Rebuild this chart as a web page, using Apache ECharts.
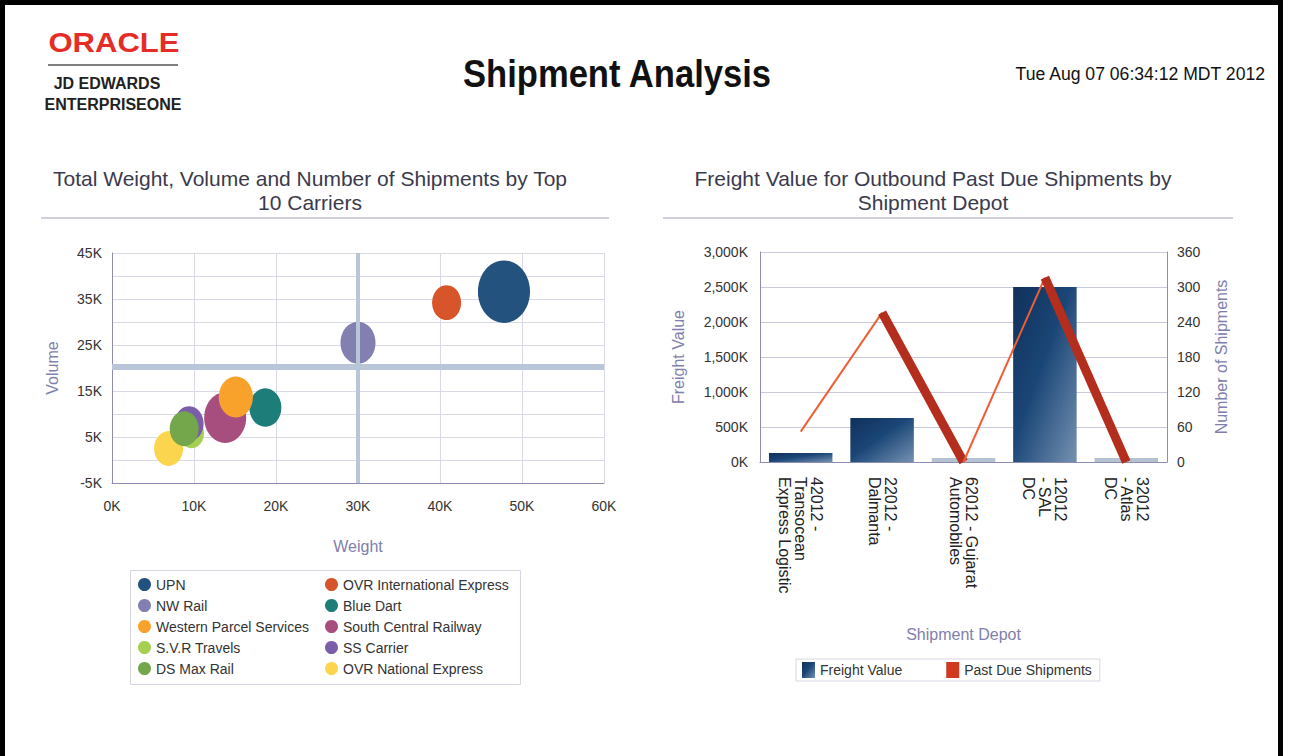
<!DOCTYPE html>
<html>
<head>
<meta charset="utf-8">
<title>Shipment Analysis</title>
<script src="https://cdn.jsdelivr.net/npm/echarts@6.0.0/dist/echarts.min.js"></script>
<style>
html, body { margin: 0; padding: 0; background: #fff; }
#main { width: 1291px; height: 756px; }
</style>
</head>
<body>
<div id="main"></div>
<script>
// carriers (left chart)
var carriers = [
    'UPN',
    'OVR International Express',
    'NW Rail',
    'Blue Dart',
    'Western Parcel Services',
    'South Central Railway',
    'S.V.R Travels',
    'SS Carrier',
    'DS Max Rail',
    'OVR National Express'
];
var weights = [47800, 40800, 30000, 18700, 15100, 13800, 9700, 9400, 8800, 6900];
var volumes = [36600, 34200, 25500, 11400, 13700, 9200, 5800, 7900, 6800, 2500];
var shipments = [270, 84, 122, 102, 116, 176, 62, 84, 84, 84];
var refWeight = 30000;
var refVolume = 20200;

// depots (right chart)
var depots = [
    '42012 -\nTransocean\nExpress Logistic',
    '22012 -\nDalmanta',
    '62012 - Gujarat\nAutomobiles',
    '12012\n- SAL\nDC',
    '32012\n- Atlas\nDC'
];
var freightValue = [130000, 630000, 0, 2500000, 0];
var pastDue = [52, 256, 0, 316, 0];

var carrierColors = ['#23527f', '#d8542a', '#8180b0', '#1d7d79', '#f8a22c',
    '#a84e7f', '#a6d053', '#7b5ea8', '#74a64c', '#fcd54e'];
var carrierZ = [2, 2, 2, 2, 3, 2, 2, 2, 3, 2];

var myChart = echarts.init(document.getElementById('main'), null, { renderer: 'svg' });

var axisColor = '#8c8cb4';
var gridColor = '#d9d9e8';
var nameColor = '#8080ac';
var fontName = '"Liberation Sans", Arial';

var barGradient = new echarts.graphic.LinearGradient(0, 0, 1, 1, [
    { offset: 0, color: '#11305a' },
    { offset: 0.45, color: '#1a4677' },
    { offset: 1, color: '#7591b1' }
]);

// bubble series, one per carrier
var bubbleSeries = carriers.map(function (name, i) {
    var s = {
        name: name,
        type: 'scatter',
        xAxisIndex: 0,
        yAxisIndex: 0,
        z: carrierZ[i],
        data: [[weights[i], volumes[i], shipments[i]]],
        symbolSize: function (val) {
            var w = Math.sqrt(val[2]) * 3.17;
            return [w, w * 1.2];
        },
        itemStyle: { color: carrierColors[i], opacity: 1 },
        emphasis: { disabled: true }
    };
    if (i === 0) {
        // reference lines
        s.markLine = {
            silent: true,
            symbol: 'none',
            label: { show: false },
            lineStyle: { color: '#b9c5d9', type: 'solid' },
            data: [
                { xAxis: refWeight, lineStyle: { width: 4 } },
                { yAxis: refVolume, lineStyle: { width: 6 } }
            ]
        };
    }
    return s;
});

var leftCol = carriers.filter(function (c, i) { return i % 2 === 0; });
var rightCol = carriers.filter(function (c, i) { return i % 2 === 1; });

var legendBase = {
    orient: 'vertical',
    top: 577,
    icon: 'circle',
    itemWidth: 13,
    itemHeight: 15,
    itemGap: 6,
    padding: 0,
    selectedMode: false,
    textStyle: { color: '#333', fontSize: 14, lineHeight: 15 }
};

option = {
    backgroundColor: '#fff',
    animation: false,
    textStyle: { fontFamily: fontName + ', sans-serif' },
    graphic: [
        // page frame
        { type: 'rect', shape: { x: 2.5, y: 2.5, width: 1278, height: 800 },
          style: { fill: null, stroke: '#000', lineWidth: 5 } },
        // logo
        { type: 'text', x: 114, y: 43, scaleX: 1.15,
          style: { text: 'ORACLE', font: 'bold 27px ' + fontName, fill: '#e52d27',
                   align: 'center', verticalAlign: 'middle' } },
        { type: 'line', shape: { x1: 48, y1: 65, x2: 178, y2: 65 },
          style: { stroke: '#555', lineWidth: 1.5 } },
        { type: 'text', x: 107, y: 83,
          style: { text: 'JD EDWARDS', font: 'bold 16px ' + fontName, fill: '#222',
                   align: 'center', verticalAlign: 'middle' } },
        { type: 'text', x: 113, y: 104,
          style: { text: 'ENTERPRISEONE', font: 'bold 16px ' + fontName, fill: '#222',
                   align: 'center', verticalAlign: 'middle' } },
        // page title and date
        { type: 'text', x: 617, y: 74, scaleX: 0.91,
          style: { text: 'Shipment Analysis', font: 'bold 38px ' + fontName, fill: '#111',
                   align: 'center', verticalAlign: 'middle' } },
        { type: 'text', x: 1265, y: 74,
          style: { text: 'Tue Aug 07 06:34:12 MDT 2012', font: '17.6px ' + fontName, fill: '#111',
                   align: 'right', verticalAlign: 'middle' } },
        // chart titles
        { type: 'text', x: 310, y: 190,
          style: { text: 'Total Weight, Volume and Number of Shipments by Top\n10 Carriers',
                   font: '21px ' + fontName, fill: '#3a3a4c', lineHeight: 24,
                   align: 'center', verticalAlign: 'middle' } },
        { type: 'text', x: 933, y: 190,
          style: { text: 'Freight Value for Outbound Past Due Shipments by\nShipment Depot',
                   font: '21px ' + fontName, fill: '#3a3a4c', lineHeight: 24,
                   align: 'center', verticalAlign: 'middle' } },
        { type: 'line', shape: { x1: 41, y1: 218, x2: 609, y2: 218 },
          style: { stroke: '#cfd0dc', lineWidth: 2 } },
        { type: 'line', shape: { x1: 663, y1: 218, x2: 1233, y2: 218 },
          style: { stroke: '#cfd0dc', lineWidth: 2 } },
        // bubble legend box
        { type: 'rect', shape: { x: 130.5, y: 570.5, width: 390, height: 114 },
          style: { fill: null, stroke: '#d6d6e2', lineWidth: 1 } }
    ],
    legend: [
        Object.assign({}, legendBase, { left: 138, data: leftCol }),
        Object.assign({}, legendBase, { left: 325, data: rightCol }),
        {
            left: 796,
            top: 659,
            itemWidth: 13,
            itemHeight: 16,
            itemGap: 44,
            padding: [3, 8, 3, 6],
            borderColor: '#d6d6e2',
            borderWidth: 1,
            selectedMode: false,
            textStyle: { color: '#333', fontSize: 14 },
            data: [
                { name: 'Freight Value', icon: 'rect' },
                { name: 'Past Due Shipments', icon: 'rect' }
            ]
        }
    ],
    grid: [
        { left: 112, top: 253, width: 492, height: 230 },
        { left: 760, top: 252, width: 407, height: 210 }
    ],
    xAxis: [
        {
            type: 'value',
            gridIndex: 0,
            min: 0,
            max: 60000,
            interval: 10000,
            name: 'Weight',
            nameLocation: 'middle',
            nameGap: 55,
            nameTextStyle: { color: nameColor, fontSize: 16 },
            axisLine: { show: true, onZero: false, lineStyle: { color: axisColor } },
            axisTick: { show: false },
            splitLine: { show: true, lineStyle: { color: gridColor } },
            axisLabel: {
                color: '#333',
                fontSize: 14,
                margin: 16,
                formatter: function (v) { return v / 1000 + 'K'; }
            }
        },
        {
            type: 'category',
            gridIndex: 1,
            data: depots,
            name: 'Shipment Depot',
            nameLocation: 'middle',
            nameGap: 164,
            nameTextStyle: { color: nameColor, fontSize: 16 },
            axisLine: { show: true, onZero: false, lineStyle: { color: axisColor } },
            axisTick: { show: false },
            axisLabel: {
                interval: 0,
                rotate: -90,
                color: '#222',
                fontSize: 16,
                lineHeight: 16,
                margin: 15
            }
        }
    ],
    yAxis: [
        {
            type: 'value',
            gridIndex: 0,
            min: -5000,
            max: 45000,
            interval: 5000,
            name: 'Volume',
            nameLocation: 'middle',
            nameRotate: 90,
            nameGap: 52,
            nameTextStyle: { color: nameColor, fontSize: 16 },
            axisLine: { show: true, onZero: false, lineStyle: { color: axisColor } },
            axisTick: { show: false },
            splitLine: { show: true, lineStyle: { color: gridColor } },
            axisLabel: {
                color: '#333',
                fontSize: 14,
                margin: 10,
                formatter: function (v) {
                    var k = v / 1000;
                    return Math.abs(k % 10) === 5 ? k + 'K' : '';
                }
            }
        },
        {
            type: 'value',
            gridIndex: 1,
            min: 0,
            max: 3000000,
            interval: 500000,
            name: 'Freight Value',
            nameLocation: 'middle',
            nameRotate: 90,
            nameGap: 74,
            nameTextStyle: { color: nameColor, fontSize: 16 },
            axisLine: { show: true, lineStyle: { color: axisColor } },
            axisTick: { show: false },
            splitLine: { show: true, lineStyle: { color: '#c9c9dc' } },
            axisLabel: {
                color: '#333',
                fontSize: 14,
                margin: 12,
                formatter: function (v) { return echarts.format.addCommas(v / 1000) + 'K'; }
            }
        },
        {
            type: 'value',
            gridIndex: 1,
            position: 'right',
            min: 0,
            max: 360,
            interval: 60,
            name: 'Number of Shipments',
            nameLocation: 'middle',
            nameRotate: 90,
            nameGap: 46,
            nameTextStyle: { color: nameColor, fontSize: 16 },
            axisLine: { show: true, lineStyle: { color: axisColor } },
            axisTick: { show: false },
            splitLine: { show: false },
            axisLabel: { color: '#333', fontSize: 14, margin: 10 }
        }
    ],
    series: bubbleSeries.concat([
        {
            name: 'Freight Value',
            type: 'bar',
            xAxisIndex: 1,
            yAxisIndex: 1,
            barWidth: '78%',
            barMinHeight: 4,
            itemStyle: { color: barGradient },
            emphasis: { disabled: true },
            data: freightValue.map(function (v) {
                return v === 0 ? { value: v, itemStyle: { color: '#b4c2d2' } } : v;
            })
        },
        {
            // 3D ribbon look: rising segments thin, falling segments thick
            name: 'Past Due Shipments',
            type: 'custom',
            xAxisIndex: 1,
            yAxisIndex: 2,
            z: 5,
            itemStyle: { color: '#d0391f' },
            encode: { x: 0, y: 1 },
            data: pastDue.map(function (v, i) { return [i, v]; }),
            renderItem: function (params, api) {
                var i = params.dataIndex;
                if (i === 0) return null;
                var p0 = api.coord([i - 1, pastDue[i - 1]]);
                var p1 = api.coord([i, api.value(1)]);
                var down = api.value(1) < pastDue[i - 1];
                return {
                    type: 'line',
                    shape: { x1: p0[0], y1: p0[1], x2: p1[0], y2: p1[1] },
                    style: {
                        stroke: down ? '#b42e1e' : '#ef5f35',
                        lineWidth: down ? 9 : 2,
                        lineCap: 'butt'
                    }
                };
            }
        }
    ])
};

myChart.setOption(option);
window.addEventListener('resize', function () {
    myChart.resize();
});
</script>
</body>
</html>
